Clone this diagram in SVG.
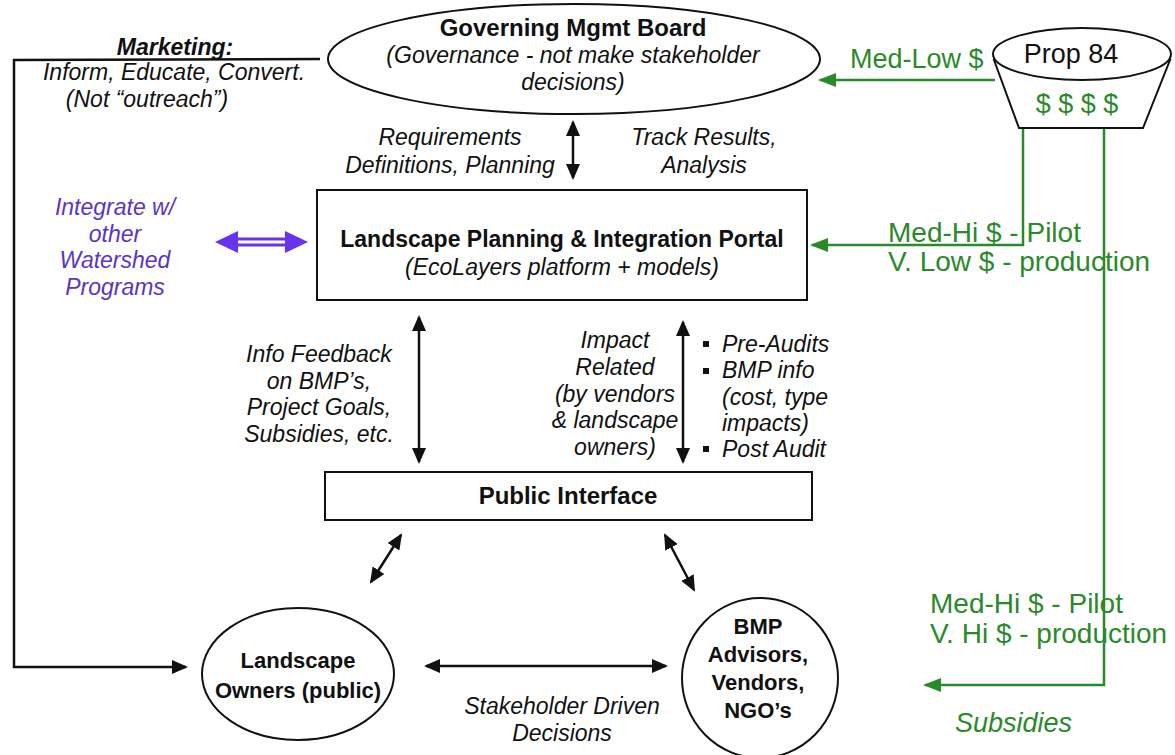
<svg xmlns="http://www.w3.org/2000/svg" width="1175" height="755" viewBox="0 0 1175 755">
<style>
text{font-family:"Liberation Sans",Arial,sans-serif;font-size:23px;fill:#111}
.b{font-weight:bold}
.i{font-style:italic}
.m{text-anchor:middle}
.c{font-size:22px}
.g{fill:#2a8a2a;font-size:27px}
.g2{font-size:28px}
.p{fill:#5a35c8}
.shape{fill:#fff;stroke:#111;stroke-width:2}
.ln{stroke:#111;stroke-width:2.5;fill:none}
.gl{stroke:#2a8a2a;stroke-width:2.5;fill:none}
</style>
<defs>
<marker id="ah" markerUnits="userSpaceOnUse" markerWidth="16" markerHeight="14" refX="14" refY="7" orient="auto-start-reverse" viewBox="0 0 16 14"><path d="M0,0 L16,7 L0,14 Z" fill="#111"/></marker>
<marker id="gh" markerUnits="userSpaceOnUse" markerWidth="18" markerHeight="14" refX="16" refY="7" orient="auto" viewBox="0 0 18 14"><path d="M0,0 L18,7 L0,14 Z" fill="#2a8a2a"/></marker>
</defs>

<g id="connectors">
<polyline class="ln" points="320,59 14,60 14,667 186,667" marker-end="url(#ah)"/>
<line class="ln" x1="573" y1="122" x2="573" y2="178" marker-start="url(#ah)" marker-end="url(#ah)"/>
<line class="ln" x1="419" y1="317" x2="419" y2="462" marker-start="url(#ah)" marker-end="url(#ah)"/>
<line class="ln" x1="683" y1="322" x2="683" y2="462" marker-start="url(#ah)" marker-end="url(#ah)"/>
<line class="ln" x1="401" y1="535" x2="371" y2="582" marker-start="url(#ah)" marker-end="url(#ah)"/>
<line class="ln" x1="665" y1="535" x2="694" y2="590" marker-start="url(#ah)" marker-end="url(#ah)"/>
<line class="ln" x1="426" y1="666" x2="666" y2="666" marker-start="url(#ah)" marker-end="url(#ah)"/>
<line x1="234" y1="242" x2="290" y2="242" stroke="#6633ee" stroke-width="9"/>
<line x1="232" y1="242" x2="292" y2="242" stroke="#fff" stroke-width="3"/>
<path d="M215,242 L238,231 L238,253 Z" fill="#6633ee"/>
<path d="M308,242 L285,231 L285,253 Z" fill="#6633ee"/>
<line class="gl" x1="995" y1="80" x2="820" y2="80" marker-end="url(#gh)"/>
<polyline class="gl" points="1023,128 1023,245 812,245" marker-end="url(#gh)"/>
<polyline class="gl" points="1104,128 1104,685 925,685" marker-end="url(#gh)"/>
</g>

<g id="marketing">
<text class="b i m" x="175" y="55">Marketing:</text>
<text class="i m" x="174" y="80">Inform, Educate, Convert.</text>
<text class="i m" x="147" y="107">(Not “outreach”)</text>
</g>

<g id="governing-board">
<ellipse class="shape" cx="574" cy="59" rx="246" ry="55"/>
<text class="b m" x="573" y="36" style="font-size:24px">Governing Mgmt Board</text>
<text class="i m" x="573" y="63">(Governance  - not make stakeholder</text>
<text class="i m" x="573" y="90">decisions)</text>
</g>

<g id="prop84">
<path class="shape" d="M994,60 L1019,128 L1143,128 L1170,60 Z"/>
<ellipse class="shape" cx="1082" cy="54" rx="89" ry="26"/>
<text class="m" x="1071" y="63" style="font-size:27px">Prop 84</text>
<text class="m g" x="1077" y="113">$ $ $ $</text>
</g>

<g id="funding-labels">
<text class="g" x="850" y="68">Med-Low $</text>
<text class="g g2" x="888" y="242">Med-Hi $ - Pilot</text>
<text class="g g2" x="888" y="271">V. Low $ - production</text>
<text class="g g2" x="930" y="613">Med-Hi $ - Pilot</text>
<text class="g g2" x="930" y="643">V. Hi $ - production</text>
<text class="g i" x="955" y="732">Subsidies</text>
</g>

<g id="gov-labels">
<text class="i m" x="450" y="145">Requirements</text>
<text class="i m" x="450" y="173">Definitions, Planning</text>
<text class="i m" x="704" y="145">Track Results,</text>
<text class="i m" x="704" y="173">Analysis</text>
</g>

<g id="integrate">
<text class="i m p" x="115" y="215">Integrate w/</text>
<text class="i m p" x="115" y="242">other</text>
<text class="i m p" x="115" y="268">Watershed</text>
<text class="i m p" x="115" y="295">Programs</text>
</g>

<g id="portal">
<rect class="shape" x="317" y="190" width="490" height="110"/>
<text class="b m" x="562" y="247">Landscape Planning &amp; Integration Portal</text>
<text class="i m" x="562" y="275">(EcoLayers platform + models)</text>
</g>

<g id="feedback-labels">
<text class="i m" x="319" y="362">Info Feedback</text>
<text class="i m" x="319" y="389">on BMP’s,</text>
<text class="i m" x="319" y="415">Project Goals,</text>
<text class="i m" x="319" y="442">Subsidies, etc.</text>
<text class="i m" x="615" y="348">Impact</text>
<text class="i m" x="615" y="375">Related</text>
<text class="i m" x="615" y="402">(by vendors</text>
<text class="i m" x="615" y="428">&amp; landscape</text>
<text class="i m" x="615" y="455">owners)</text>
<rect x="703" y="341" width="6" height="6" fill="#111"/>
<rect x="703" y="368" width="6" height="6" fill="#111"/>
<rect x="703" y="446" width="6" height="6" fill="#111"/>
<text class="i" x="722" y="352">Pre-Audits</text>
<text class="i" x="722" y="378">BMP info</text>
<text class="i" x="722" y="405">(cost, type</text>
<text class="i" x="722" y="431">impacts)</text>
<text class="i" x="722" y="457">Post Audit</text>
</g>

<g id="public-interface">
<rect class="shape" x="325" y="472" width="487" height="48"/>
<text class="b m" x="568" y="504" style="font-size:24px">Public Interface</text>
</g>

<g id="landscape-owners">
<ellipse class="shape" cx="298" cy="674" rx="96" ry="66"/>
<text class="b m c" x="298" y="668">Landscape</text>
<text class="b m c" x="298" y="698">Owners (public)</text>
</g>

<g id="bmp">
<ellipse class="shape" cx="760" cy="678" rx="78" ry="80"/>
<text class="b m c" x="758" y="634">BMP</text>
<text class="b m c" x="758" y="662">Advisors,</text>
<text class="b m c" x="758" y="690">Vendors,</text>
<text class="b m c" x="758" y="718">NGO’s</text>
</g>

<g id="decision-label">
<text class="i m" x="562" y="714">Stakeholder Driven</text>
<text class="i m" x="562" y="741">Decisions</text>
</g>
</svg>
